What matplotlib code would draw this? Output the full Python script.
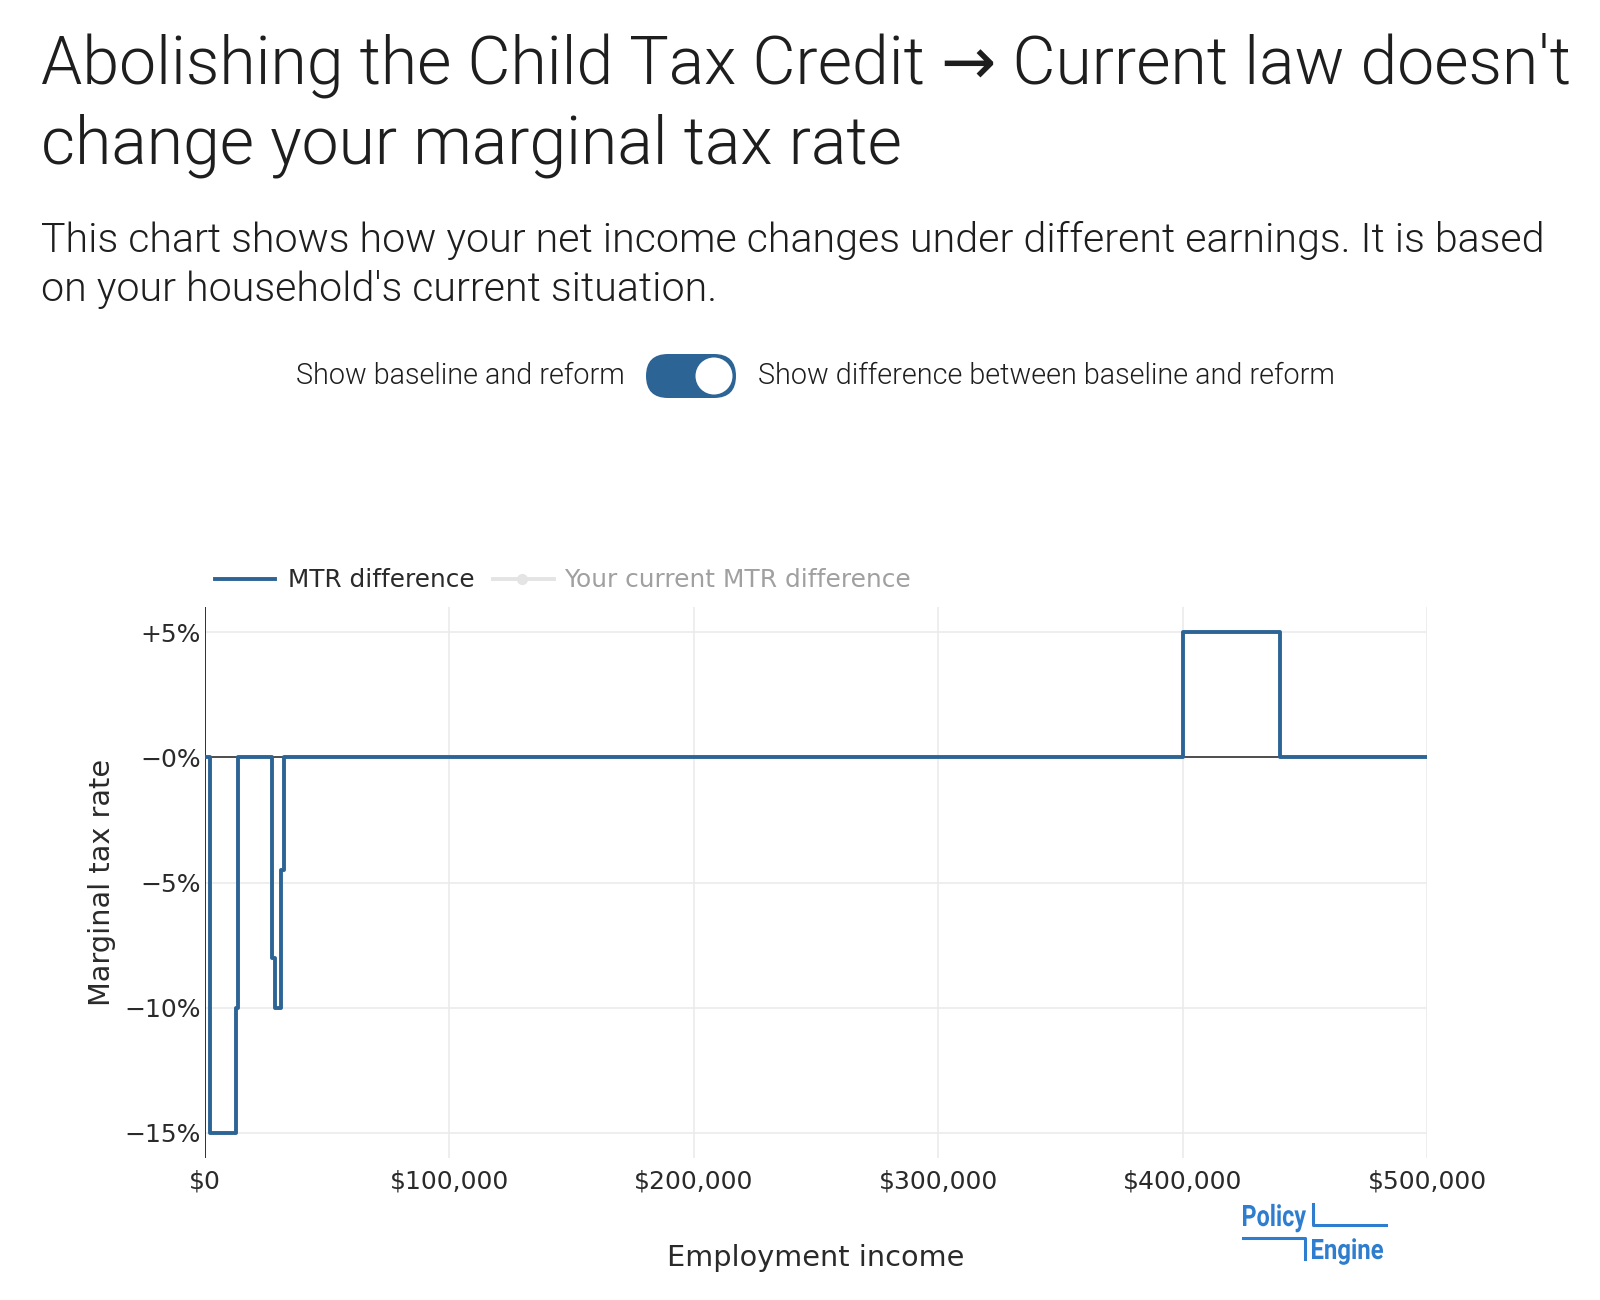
import matplotlib
matplotlib.use("Agg")
import matplotlib.pyplot as plt
from matplotlib.lines import Line2D
from matplotlib.patches import FancyBboxPatch, Circle, PathPatch
from matplotlib.textpath import TextPath
from matplotlib.transforms import Affine2D, IdentityTransform
from matplotlib.font_manager import FontProperties

# step points of the MTR difference (reform minus baseline), in percent
income = [0, 2000, 12500, 13500, 27500, 28500, 31000, 32500, 400000, 440000, 500000]
mtr_diff = [0, -15, -10, 0, -8, -10, -4.5, 0, 5, 0, 0]

x_ticks = [0, 100000, 200000, 300000, 400000, 500000]
x_labels = ["$0", "$100,000", "$200,000", "$300,000", "$400,000", "$500,000"]
y_ticks = [5, 0, -5, -10, -15]
y_labels = ["+5%", "\u22120%", "\u22125%", "\u221210%", "\u221215%"]

BLUE = "#2C6496"
LOGO = "#2E7DCF"
W, H = 1600, 1300

fig = plt.figure(figsize=(16, 13), dpi=100)
pix = IdentityTransform()

def fx(px):
    return px / W

def fy(px):
    return 1 - px / H

head = ["Roboto", "DejaVu Sans"]
dark = "#1e1e1e"

# title and subtitle
fig.text(fx(41), fy(84), "Abolishing the Child Tax Credit \u2192 Current law doesn't",
         family=head, fontweight=300, fontsize=47.6, color=dark, va="baseline")
fig.text(fx(41), fy(164), "change your marginal tax rate",
         family=head, fontweight=300, fontsize=47.6, color=dark, va="baseline")
fig.text(fx(41), fy(252), "This chart shows how your net income changes under different earnings. It is based",
         family=head, fontweight=300, fontsize=29.7, color=dark, va="baseline")
fig.text(fx(41), fy(301), "on your household's current situation.",
         family=head, fontweight=300, fontsize=29.7, color=dark, va="baseline")

# toggle row
fig.text(fx(625), fy(376), "Show baseline and reform", family=head, fontweight=300,
         fontsize=20.7, color=dark, ha="right", va="center")
fig.text(fx(758), fy(376), "Show difference between baseline and reform", family=head,
         fontweight=300, fontsize=20.7, color=dark, ha="left", va="center")
pill = FancyBboxPatch((646, H - 398), 90, 44, boxstyle="round,pad=0,rounding_size=22",
                      transform=pix, facecolor=BLUE, edgecolor="none")
fig.patches.append(pill)
knob = Circle((714, H - 376), 18.5, transform=pix, facecolor="white", edgecolor="none")
fig.patches.append(knob)

# legend
fig.lines.append(Line2D([fx(215), fx(275)], [fy(579), fy(579)], transform=fig.transFigure,
                        color=BLUE, lw=2.8))
fig.text(fx(288), fy(580), "MTR difference", fontsize=17.8, color="#2a2a2a", va="center")
fig.lines.append(Line2D([fx(493), fx(554)], [fy(579), fy(579)], transform=fig.transFigure,
                        color="#e4e4e4", lw=2.8))
fig.lines.append(Line2D([fx(522)], [fy(579)], transform=fig.transFigure, marker="o",
                        markersize=7, color="#e4e4e4"))
fig.text(fx(564), fy(580), "Your current MTR difference", fontsize=17.9, color="#a0a0a0", va="center")

# chart
ax = fig.add_axes([fx(205), fy(1158), fx(1427 - 205), (1158 - 607) / H])
ax.step(income, mtr_diff, where="post", color=BLUE, lw=2.8, zorder=3)
ax.axhline(0, color="#222", lw=1.1, zorder=2)
ax.axvline(0, color="#222", lw=1.3, zorder=2)
ax.set_xlim(0, 500000)
ax.set_ylim(-16, 6)
ax.set_xticks(x_ticks)
ax.set_xticklabels(x_labels)
ax.set_yticks(y_ticks)
ax.set_yticklabels(y_labels)
ax.grid(True, color="#ebebeb", lw=1.2, zorder=0)
for s in ax.spines.values():
    s.set_visible(False)
ax.tick_params(length=0, labelsize=18, labelcolor="#2a2a2a")
ax.tick_params(axis="x", pad=8)
ax.tick_params(axis="y", pad=3)

fig.text(fx(102), fy(882), "Marginal tax rate", rotation=90, fontsize=20.7,
         color="#2a2a2a", ha="center", va="center")
fig.text(fx(816), fy(1258), "Employment income", fontsize=20.7,
         color="#2a2a2a", ha="center", va="center")

# PolicyEngine logo: condensed bold words squeezed into their boxes
logo_fp = FontProperties(family="Roboto", weight="bold")
cap_h = TextPath((0, 0), "E", size=100, prop=logo_fp).get_extents().ymax

def logo_word(word, x0, x1, cap_top, base):
    tp = TextPath((0, 0), word, size=100, prop=logo_fp)
    ext = tp.get_extents()
    sx = (x1 - x0) / ext.width
    sy = (base - cap_top) / cap_h
    tr = Affine2D().translate(-ext.xmin, 0).scale(sx, sy).translate(x0, H - base)
    fig.patches.append(PathPatch(tr.transform_path(tp), facecolor=LOGO,
                                 edgecolor="none", transform=pix))

logo_word("Policy", 1243, 1306, 1205, 1226)
logo_word("Engine", 1312, 1383, 1239, 1259)
fig.lines.append(Line2D([1313, 1313, 1386], [H - 1204, H - 1225, H - 1225],
                        transform=pix, color=LOGO, lw=2.2))
fig.lines.append(Line2D([1243, 1305, 1305], [H - 1238, H - 1238, H - 1259],
                        transform=pix, color=LOGO, lw=2.2))

fig.savefig("out.png", dpi=100, facecolor="white")
